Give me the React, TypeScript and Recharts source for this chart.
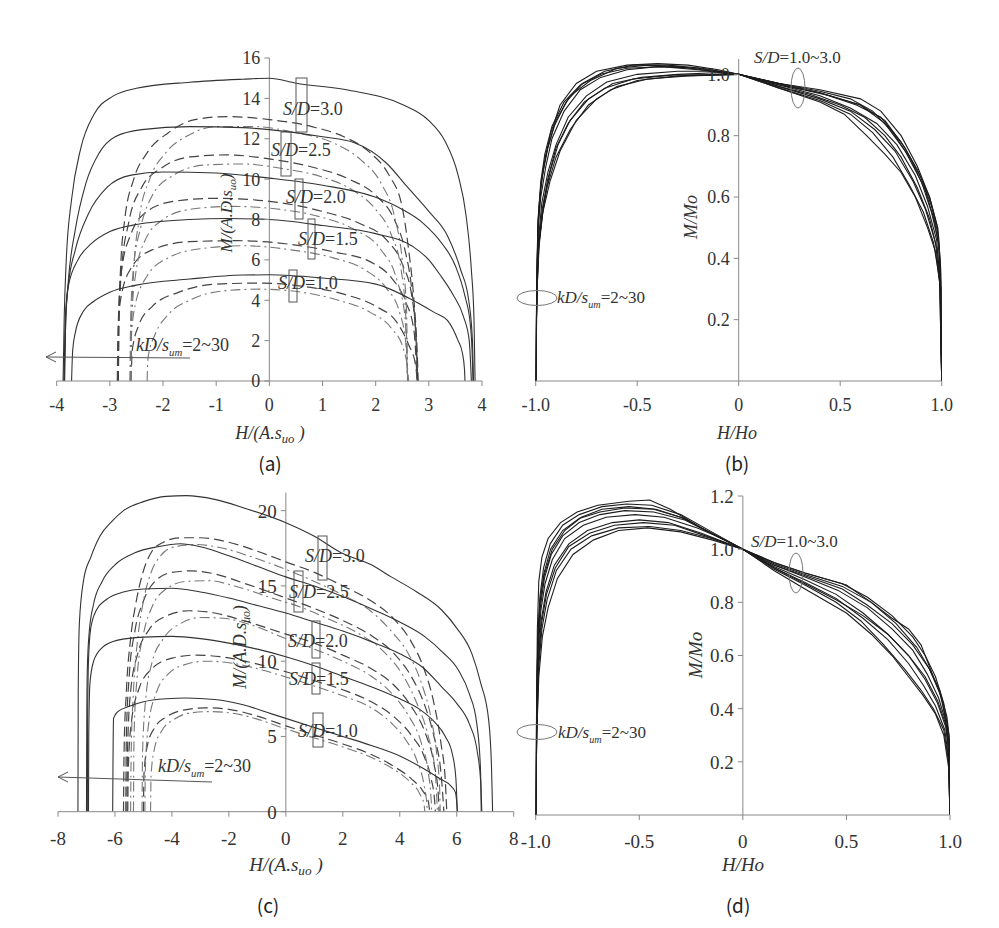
import React from "react";
import { LineChart, Line, XAxis, YAxis, ReferenceLine, ReferenceDot } from "recharts";

const FONT = '"Liberation Serif", "DejaVu Serif", "Times New Roman", serif';

// (a) S/D groups: solid = outer curve, dash / dot = inner kD curves
const aSolid30 = [[-3.88,0],[-3.86,3],[-3.82,6],[-3.72,9],[-3.55,11.5],[-3.3,13.2],[-2.95,14.1],[-2.5,14.5],[-1.5,14.8],[-0.5,14.95],[0,15.0],[0.5,14.75],[1.5,14.4],[2.5,13.7],[3.0,12.9],[3.3,11.9],[3.55,10.2],[3.7,8.2],[3.8,5.5],[3.85,3],[3.87,0]];
const aSolid25 = [[-3.86,0],[-3.83,3],[-3.78,5],[-3.65,7.5],[-3.45,9.8],[-3.2,11.3],[-2.9,12.1],[-2.4,12.45],[-1.5,12.6],[-0.5,12.55],[0,12.45],[1,12.1],[1.6,11.8],[2.2,10.8],[2.6,9.6],[3.0,8.4],[3.35,7.2],[3.6,5.5],[3.75,4],[3.82,2],[3.84,0]];
const aSolid20 = [[-3.86,0],[-3.84,3],[-3.78,4.8],[-3.65,6.5],[-3.4,8.3],[-3.05,9.6],[-2.6,10.2],[-2,10.35],[-1,10.3],[0,10.05],[1,9.7],[2,9.1],[2.5,8.5],[2.9,7.8],[3.25,6.8],[3.5,5.7],[3.68,4.2],[3.78,2.8],[3.82,1],[3.83,0]];
const aSolid15 = [[-3.85,0],[-3.83,3],[-3.78,4.7],[-3.6,6.0],[-3.35,6.8],[-3.0,7.4],[-2.5,7.75],[-1.5,8.0],[-0.8,8.05],[0,8.0],[1,7.7],[2,7.3],[2.7,6.66],[3.0,6.0],[3.2,5.3],[3.45,4.3],[3.65,3.2],[3.76,2],[3.8,0]];
const aSolid10 = [[-3.72,0],[-3.7,1.5],[-3.65,2.4],[-3.5,3.45],[-3.3,3.95],[-3.0,4.4],[-2.5,4.75],[-1.5,5.05],[-0.5,5.25],[0,5.26],[1,5.1],[2,4.8],[2.77,3.9],[3.1,3.4],[3.35,3.0],[3.55,2.0],[3.63,1.4],[3.67,0.6],[3.68,0]];
const aDash30 = [[-2.84,0],[-2.83,3],[-2.8,5.5],[-2.72,8],[-2.55,10],[-2.3,11.3],[-1.9,12.3],[-1.4,12.95],[-0.8,13.1],[0,12.95],[0.8,12.6],[1.4,12.1],[1.9,11.3],[2.25,10.2],[2.5,8.6],[2.62,6.5],[2.72,4],[2.78,1.5],[2.8,0]];
const aDot30 = [[-2.6,0],[-2.59,3],[-2.55,5.5],[-2.45,8],[-2.25,10],[-1.95,11.3],[-1.5,12.2],[-1.0,12.6],[-0.3,12.6],[0.5,12.3],[1.2,11.8],[1.7,11.0],[2.1,9.8],[2.35,8.2],[2.5,6],[2.58,3.5],[2.6,0]];
const aDash25 = [[-2.84,0],[-2.83,3],[-2.78,5.5],[-2.65,7.8],[-2.4,9.6],[-2.0,10.6],[-1.5,11.1],[-0.8,11.2],[0,11.0],[0.8,10.6],[1.5,10.0],[2.0,9.2],[2.35,8.0],[2.55,6.5],[2.68,4.5],[2.76,2],[2.79,0]];
const aDot25 = [[-2.62,0],[-2.61,3],[-2.56,5.5],[-2.42,7.6],[-2.2,9.2],[-1.8,10.2],[-1.2,10.7],[-0.5,10.75],[0.3,10.5],[1.0,10.1],[1.6,9.4],[2.0,8.5],[2.3,7.2],[2.48,5.5],[2.57,3],[2.6,0]];
const aDash20 = [[-2.85,0],[-2.84,3],[-2.78,5.5],[-2.6,7.3],[-2.3,8.4],[-1.8,8.9],[-1.0,9.05],[0,8.9],[1.0,8.4],[1.7,7.8],[2.2,7.0],[2.5,5.8],[2.68,4.2],[2.76,2],[2.79,0]];
const aDot20 = [[-2.6,0],[-2.59,3],[-2.52,5.2],[-2.35,6.9],[-2.0,8.0],[-1.5,8.5],[-0.7,8.65],[0.2,8.5],[1.0,8.1],[1.6,7.5],[2.1,6.5],[2.4,5.0],[2.55,3.2],[2.6,0]];
const aDash15 = [[-2.86,0],[-2.85,2],[-2.8,4],[-2.6,5.6],[-2.2,6.5],[-1.5,6.9],[-0.6,6.95],[0.3,6.8],[1.2,6.4],[1.9,5.9],[2.3,5.1],[2.55,4.0],[2.72,2.5],[2.78,0]];
const aDot15 = [[-2.62,0],[-2.6,2],[-2.52,3.8],[-2.3,5.2],[-1.9,6.1],[-1.3,6.55],[-0.5,6.7],[0.4,6.5],[1.2,6.1],[1.8,5.5],[2.2,4.6],[2.45,3.4],[2.57,1.8],[2.6,0]];
const aDash10 = [[-2.6,0],[-2.58,1.5],[-2.45,2.8],[-2.2,3.7],[-1.7,4.4],[-1.0,4.8],[-0.2,4.85],[0.6,4.7],[1.4,4.3],[2.0,3.7],[2.4,2.9],[2.62,1.8],[2.75,0.8],[2.78,0]];
const aDot10 = [[-2.3,0],[-2.28,1.2],[-2.15,2.3],[-1.9,3.3],[-1.5,4.0],[-0.9,4.45],[-0.2,4.55],[0.6,4.4],[1.3,4.0],[1.9,3.4],[2.3,2.6],[2.52,1.6],[2.6,0.6],[2.62,0]];

// (b) normalised curves
const b1 = [[-1.0,0],[-0.995,0.3],[-0.99,0.5],[-0.98,0.6],[-0.96,0.7],[-0.93,0.8],[-0.88,0.9],[-0.8,0.97],[-0.7,1.01],[-0.55,1.03],[-0.4,1.035],[-0.25,1.03],[-0.1,1.015],[0,1.0],[0.2,0.97],[0.4,0.95],[0.6,0.92],[0.7,0.88],[0.8,0.8],[0.88,0.7],[0.94,0.6],[0.98,0.5],[0.995,0.35],[1.0,0]];
const b2 = [[-1.0,0],[-0.995,0.3],[-0.99,0.48],[-0.975,0.6],[-0.95,0.7],[-0.92,0.79],[-0.86,0.88],[-0.78,0.95],[-0.68,0.99],[-0.55,1.015],[-0.4,1.025],[-0.2,1.02],[0,1.0],[0.2,0.97],[0.4,0.94],[0.6,0.9],[0.72,0.85],[0.82,0.76],[0.9,0.66],[0.95,0.57],[0.985,0.47],[0.997,0.3],[1.0,0]];
const b3 = [[-1.0,0],[-0.995,0.28],[-0.988,0.45],[-0.97,0.58],[-0.94,0.68],[-0.9,0.77],[-0.84,0.86],[-0.75,0.93],[-0.65,0.975],[-0.5,1.0],[-0.3,1.01],[-0.15,1.01],[0,1.0],[0.2,0.965],[0.4,0.93],[0.55,0.89],[0.68,0.84],[0.78,0.77],[0.87,0.67],[0.93,0.57],[0.975,0.46],[0.995,0.3],[1.0,0]];
const b4 = [[-1.0,0],[-0.995,0.27],[-0.985,0.43],[-0.965,0.55],[-0.93,0.65],[-0.88,0.75],[-0.8,0.85],[-0.7,0.92],[-0.6,0.96],[-0.45,0.985],[-0.25,0.995],[0,1.0],[0.2,0.96],[0.4,0.92],[0.55,0.88],[0.67,0.82],[0.77,0.75],[0.86,0.65],[0.92,0.56],[0.97,0.45],[0.993,0.3],[1.0,0]];
const b5 = [[-1.0,0],[-0.993,0.3],[-0.982,0.46],[-0.96,0.58],[-0.93,0.68],[-0.89,0.77],[-0.83,0.85],[-0.74,0.92],[-0.62,0.97],[-0.48,0.99],[-0.3,1.0],[-0.12,1.005],[0,1.0],[0.2,0.96],[0.35,0.935],[0.5,0.9],[0.62,0.86],[0.72,0.8],[0.8,0.73],[0.88,0.63],[0.94,0.53],[0.98,0.42],[0.995,0.28],[1.0,0]];
const b6 = [[-1.0,0],[-0.994,0.32],[-0.987,0.52],[-0.975,0.64],[-0.95,0.74],[-0.91,0.83],[-0.85,0.91],[-0.77,0.97],[-0.66,1.01],[-0.52,1.03],[-0.35,1.03],[-0.18,1.02],[0,1.0],[0.2,0.965],[0.4,0.94],[0.58,0.9],[0.7,0.86],[0.8,0.78],[0.88,0.69],[0.94,0.6],[0.98,0.5],[0.996,0.36],[1.0,0]];
const b7 = [[-1.0,0],[-0.996,0.25],[-0.988,0.42],[-0.97,0.53],[-0.945,0.63],[-0.9,0.73],[-0.83,0.82],[-0.74,0.9],[-0.63,0.95],[-0.5,0.98],[-0.3,0.995],[0,1.0],[0.2,0.955],[0.4,0.915],[0.55,0.87],[0.66,0.81],[0.76,0.73],[0.84,0.64],[0.91,0.55],[0.96,0.45],[0.99,0.33],[1.0,0]];
const b8 = [[-1.0,0],[-0.994,0.35],[-0.986,0.55],[-0.97,0.66],[-0.94,0.76],[-0.9,0.85],[-0.83,0.93],[-0.73,0.98],[-0.6,1.02],[-0.45,1.03],[-0.3,1.025],[-0.12,1.01],[0,1.0],[0.25,0.96],[0.45,0.93],[0.6,0.9],[0.72,0.84],[0.82,0.75],[0.9,0.65],[0.95,0.55],[0.985,0.45],[0.997,0.3],[1.0,0]];
const b9 = [[-1.0,0],[-0.995,0.26],[-0.987,0.44],[-0.968,0.56],[-0.94,0.66],[-0.9,0.76],[-0.84,0.84],[-0.76,0.91],[-0.66,0.955],[-0.52,0.985],[-0.32,0.998],[0,1.0],[0.2,0.955],[0.4,0.91],[0.52,0.87],[0.63,0.8],[0.72,0.74],[0.8,0.68],[0.87,0.6],[0.93,0.5],[0.97,0.42],[0.99,0.32],[1.0,0]];
const b10 = [[-1.0,0],[-0.994,0.33],[-0.988,0.53],[-0.975,0.65],[-0.955,0.74],[-0.92,0.83],[-0.86,0.91],[-0.78,0.965],[-0.68,1.0],[-0.55,1.02],[-0.38,1.025],[-0.2,1.015],[0,1.0],[0.2,0.97],[0.4,0.945],[0.55,0.92],[0.66,0.88],[0.76,0.81],[0.85,0.72],[0.92,0.62],[0.965,0.52],[0.99,0.42],[1.0,0]];

// (c)
const cSolid30 = [[-7.3,0],[-7.29,8],[-7.25,12.5],[-7.1,15.4],[-6.85,16.9],[-6.53,18.3],[-6.1,19.3],[-5.7,20.0],[-5.0,20.6],[-4.2,20.95],[-3.5,21.0],[-2.5,20.75],[-1.5,20.2],[0,19.2],[1.0,18.3],[1.94,17.2],[3.0,16.4],[3.7,15.6],[4.6,14.6],[5.47,13.4],[6.0,12.2],[6.53,10.5],[6.85,8.5],[7.12,6.1],[7.22,3],[7.26,0]];
const cSolid25 = [[-7.0,0],[-6.99,6],[-6.97,9.5],[-6.9,12],[-6.75,13.8],[-6.45,15.3],[-6.0,16.4],[-5.3,17.2],[-4.5,17.6],[-3.7,17.8],[-3.0,17.6],[-2.0,17.0],[-1.0,16.3],[0,15.6],[1.0,15.0],[2.0,14.3],[3.1,13.4],[4.0,12.6],[4.9,11.6],[5.5,10.6],[6.06,9.4],[6.45,7.8],[6.7,5.9],[6.83,3],[6.88,0]];
const cSolid20 = [[-6.97,0],[-6.96,6],[-6.93,10],[-6.85,12.2],[-6.65,13.4],[-6.3,14.1],[-5.7,14.6],[-5.0,14.8],[-4.0,14.85],[-3.0,14.6],[-2.0,14.2],[-1.0,13.7],[0,13.2],[1.0,12.6],[2.0,12.0],[3.0,11.3],[4.0,10.5],[4.8,9.6],[5.47,8.3],[6.0,7.2],[6.45,5.8],[6.72,4],[6.84,2],[6.86,0]];
const cSolid15 = [[-6.93,0],[-6.92,5],[-6.88,8.5],[-6.75,10],[-6.45,10.9],[-5.9,11.4],[-5.0,11.6],[-4.0,11.65],[-3.0,11.5],[-2.0,11.2],[-1.0,10.8],[0,10.3],[1.0,9.7],[2.0,9.0],[3.0,8.3],[4.0,7.5],[4.7,6.8],[5.2,6.0],[5.6,5.0],[5.85,3.8],[5.97,2.2],[6.02,0]];
const cSolid10 = [[-6.08,0],[-6.07,3],[-6.05,6.2],[-5.9,6.65],[-5.5,7.0],[-5.0,7.3],[-4.2,7.5],[-3.5,7.55],[-2.5,7.45],[-1.5,7.1],[-0.5,6.5],[0,6.2],[1.0,5.6],[2.0,5.0],[3.0,4.4],[4.0,3.7],[4.8,2.9],[5.4,2.2],[5.8,1.7],[5.95,1.3],[6.0,0.6],[6.02,0]];
const cDash30 = [[-5.7,0],[-5.68,4],[-5.6,8],[-5.45,11.5],[-5.25,14],[-5.0,16],[-4.7,17.3],[-4.3,17.9],[-3.7,18.2],[-3.0,18.2],[-2.0,17.9],[-1.0,17.3],[0,16.6],[1.0,15.9],[2.0,15.0],[3.0,14.0],[3.8,12.8],[4.4,11.3],[4.85,9.5],[5.2,7.2],[5.45,4.5],[5.6,2],[5.65,0]];
const cDot30 = [[-5.45,0],[-5.43,4],[-5.35,8],[-5.2,11.5],[-5.0,14],[-4.75,15.8],[-4.4,17.0],[-3.9,17.6],[-3.2,17.75],[-2.2,17.5],[-1.0,16.8],[0,16.1],[1.0,15.3],[2.0,14.4],[3.0,13.3],[3.7,12.0],[4.3,10.5],[4.75,8.6],[5.1,6.2],[5.3,3.8],[5.4,1.5],[5.42,0]];
const cDash25 = [[-5.62,0],[-5.6,5],[-5.5,9],[-5.3,12],[-5.0,14],[-4.6,15.3],[-4.0,15.9],[-3.3,16.0],[-2.5,15.8],[-1.5,15.2],[0,14.2],[1.0,13.5],[2.0,12.7],[3.0,11.7],[3.8,10.5],[4.4,9.0],[4.85,7.2],[5.2,5.0],[5.45,2.5],[5.55,0]];
const cDot25 = [[-5.35,0],[-5.33,5],[-5.22,9],[-5.0,11.8],[-4.7,13.6],[-4.2,14.8],[-3.5,15.3],[-2.7,15.35],[-1.8,15.0],[-0.5,14.2],[0.5,13.6],[1.5,12.8],[2.5,11.9],[3.4,10.7],[4.1,9.1],[4.6,7.2],[5.0,5.0],[5.25,2.5],[5.32,0]];
const cDash20 = [[-5.58,0],[-5.56,4],[-5.45,8],[-5.2,10.5],[-4.8,12.1],[-4.2,13.0],[-3.4,13.35],[-2.5,13.2],[-1.5,12.7],[0,11.8],[1.0,11.2],[2.0,10.4],[3.0,9.5],[3.8,8.4],[4.4,7.0],[4.9,5.2],[5.2,3.2],[5.35,1.2],[5.38,0]];
const cDot20 = [[-5.05,0],[-5.03,4],[-4.92,7.5],[-4.7,9.9],[-4.3,11.5],[-3.7,12.5],[-3.0,12.9],[-2.2,12.85],[-1.2,12.4],[0,11.5],[1.0,10.8],[2.0,10.0],[3.0,9.0],[3.7,7.9],[4.3,6.4],[4.75,4.6],[5.0,2.6],[5.1,0.8],[5.12,0]];
const cDash15 = [[-5.55,0],[-5.53,3],[-5.42,6],[-5.15,8.2],[-4.7,9.5],[-4.0,10.2],[-3.2,10.4],[-2.3,10.3],[-1.2,9.9],[0,9.3],[1.0,8.7],[2.0,8.1],[3.0,7.3],[3.8,6.3],[4.4,5.1],[4.85,3.7],[5.1,2.2],[5.22,0.8],[5.25,0]];
const cDot15 = [[-4.95,0],[-4.93,3],[-4.82,5.8],[-4.55,7.9],[-4.1,9.2],[-3.5,9.8],[-2.8,10.0],[-2.0,9.9],[-1.0,9.5],[0,8.95],[1.0,8.35],[2.0,7.7],[3.0,6.9],[3.7,5.9],[4.2,4.8],[4.6,3.4],[4.85,1.8],[4.95,0.5],[4.97,0]];
const cDash10 = [[-5.0,0],[-4.98,2.5],[-4.85,4.5],[-4.6,5.6],[-4.2,6.3],[-3.6,6.75],[-2.8,6.9],[-2.0,6.8],[-1.0,6.35],[0,5.7],[1.0,5.1],[2.0,4.5],[3.0,3.8],[3.8,3.0],[4.4,2.2],[4.8,1.4],[5.0,0.7],[5.05,0]];
const cDot10 = [[-4.75,0],[-4.73,2.5],[-4.6,4.3],[-4.35,5.4],[-3.95,6.1],[-3.4,6.55],[-2.7,6.65],[-1.9,6.55],[-1.0,6.15],[0,5.5],[1.0,4.9],[2.0,4.3],[3.0,3.6],[3.8,2.8],[4.35,2.0],[4.7,1.2],[4.85,0.5],[4.88,0]];

// (d)
const d1 = [[-1.0,0],[-0.996,0.4],[-0.992,0.7],[-0.985,0.88],[-0.97,0.97],[-0.94,1.04],[-0.88,1.1],[-0.8,1.14],[-0.7,1.165],[-0.55,1.18],[-0.45,1.185],[-0.35,1.15],[-0.2,1.08],[-0.1,1.04],[0,1.0],[0.15,0.95],[0.3,0.91],[0.5,0.865],[0.62,0.8],[0.72,0.74],[0.8,0.7],[0.86,0.64],[0.92,0.52],[0.96,0.44],[0.99,0.3],[1.0,0]];
const d2 = [[-1.0,0],[-0.996,0.35],[-0.99,0.65],[-0.98,0.8],[-0.96,0.9],[-0.92,1.0],[-0.86,1.07],[-0.78,1.12],[-0.68,1.15],[-0.55,1.16],[-0.42,1.15],[-0.3,1.12],[-0.15,1.06],[0,1.0],[0.15,0.94],[0.3,0.9],[0.48,0.85],[0.6,0.79],[0.72,0.72],[0.82,0.64],[0.9,0.55],[0.95,0.46],[0.985,0.35],[0.998,0.25],[1.0,0]];
const d3 = [[-1.0,0],[-0.995,0.35],[-0.988,0.62],[-0.975,0.77],[-0.955,0.87],[-0.92,0.96],[-0.86,1.04],[-0.77,1.09],[-0.66,1.12],[-0.52,1.13],[-0.38,1.12],[-0.22,1.08],[-0.1,1.04],[0,1.0],[0.15,0.935],[0.3,0.885],[0.45,0.83],[0.58,0.76],[0.7,0.68],[0.8,0.6],[0.88,0.51],[0.94,0.42],[0.98,0.33],[0.997,0.22],[1.0,0]];
const d4 = [[-1.0,0],[-0.995,0.33],[-0.988,0.58],[-0.974,0.73],[-0.95,0.84],[-0.91,0.94],[-0.84,1.02],[-0.75,1.07],[-0.63,1.1],[-0.5,1.11],[-0.36,1.1],[-0.2,1.06],[0,1.0],[0.15,0.93],[0.3,0.875],[0.45,0.815],[0.58,0.74],[0.7,0.66],[0.8,0.57],[0.87,0.49],[0.93,0.41],[0.975,0.32],[0.995,0.2],[1.0,0]];
const d5 = [[-1.0,0],[-0.995,0.3],[-0.986,0.55],[-0.97,0.7],[-0.945,0.81],[-0.9,0.92],[-0.83,1.0],[-0.73,1.05],[-0.6,1.08],[-0.45,1.085],[-0.3,1.07],[-0.15,1.04],[0,1.0],[0.15,0.925],[0.3,0.865],[0.45,0.8],[0.57,0.73],[0.68,0.64],[0.78,0.55],[0.86,0.47],[0.92,0.4],[0.97,0.32],[0.993,0.2],[1.0,0]];
const d6 = [[-1.0,0],[-0.996,0.38],[-0.99,0.66],[-0.98,0.82],[-0.962,0.93],[-0.93,1.02],[-0.87,1.09],[-0.79,1.13],[-0.68,1.16],[-0.56,1.17],[-0.44,1.165],[-0.3,1.13],[-0.15,1.065],[0,1.0],[0.15,0.945],[0.3,0.905],[0.48,0.86],[0.62,0.8],[0.74,0.72],[0.84,0.63],[0.9,0.55],[0.95,0.47],[0.985,0.37],[0.998,0.28],[1.0,0]];
const d7 = [[-1.0,0],[-0.995,0.32],[-0.987,0.57],[-0.972,0.72],[-0.948,0.83],[-0.905,0.93],[-0.84,1.01],[-0.74,1.06],[-0.62,1.09],[-0.48,1.1],[-0.33,1.09],[-0.18,1.05],[0,1.0],[0.15,0.93],[0.3,0.87],[0.45,0.81],[0.58,0.75],[0.7,0.68],[0.8,0.6],[0.88,0.52],[0.94,0.43],[0.98,0.34],[0.996,0.22],[1.0,0]];
const d8 = [[-1.0,0],[-0.996,0.36],[-0.99,0.62],[-0.978,0.78],[-0.958,0.89],[-0.925,0.98],[-0.87,1.05],[-0.79,1.1],[-0.69,1.13],[-0.57,1.145],[-0.43,1.14],[-0.28,1.11],[-0.13,1.05],[0,1.0],[0.15,0.94],[0.3,0.895],[0.46,0.845],[0.6,0.78],[0.72,0.7],[0.82,0.62],[0.89,0.53],[0.945,0.44],[0.98,0.35],[0.997,0.25],[1.0,0]];
const d9 = [[-1.0,0],[-0.995,0.3],[-0.985,0.52],[-0.968,0.67],[-0.94,0.78],[-0.895,0.89],[-0.82,0.98],[-0.72,1.035],[-0.6,1.07],[-0.46,1.08],[-0.3,1.065],[-0.15,1.035],[0,1.0],[0.15,0.92],[0.3,0.85],[0.5,0.76],[0.62,0.68],[0.72,0.6],[0.8,0.52],[0.87,0.45],[0.93,0.38],[0.97,0.3],[0.993,0.18],[1.0,0]];
const d10 = [[-1.0,0],[-0.996,0.37],[-0.99,0.64],[-0.979,0.8],[-0.96,0.91],[-0.928,1.0],[-0.87,1.07],[-0.79,1.115],[-0.69,1.14],[-0.57,1.155],[-0.43,1.15],[-0.28,1.115],[-0.13,1.05],[0,1.0],[0.15,0.95],[0.3,0.91],[0.48,0.87],[0.6,0.82],[0.72,0.75],[0.82,0.67],[0.88,0.6],[0.93,0.52],[0.97,0.42],[0.995,0.3],[1.0,0]];

const aTicksX = [-4, -3, -2, -1, 0, 1, 2, 3, 4];
const aTicksY = [0, 2, 4, 6, 8, 10, 12, 14, 16];
const cTicksX = [-8, -6, -4, -2, 0, 2, 4, 6, 8];
const cTicksY = [0, 5, 10, 15, 20];
const nTicksX = [-1, -0.5, 0, 0.5, 1];
const bTicksY = [0.2, 0.4, 0.6, 0.8, 1.0];
const dTicksY = [0.2, 0.4, 0.6, 0.8, 1.0, 1.2];

const toPts = (a: number[][]) => a.map(([x, y]) => ({ x, y }));

const SOLID = { stroke: "#333", dash: undefined, width: 1.1 };
const DASH = { stroke: "#444", dash: "10 5", width: 1.2 };
const DOT = { stroke: "#777", dash: "10 4 2 4", width: 1.1 };
const NORM = { stroke: "#1c1c1c", dash: undefined, width: 1.1 };

const aSeries = [
  ...[aDash30, aDash25, aDash20, aDash15, aDash10].map((d) => ({ d, s: DASH })),
  ...[aDot30, aDot25, aDot20, aDot15, aDot10].map((d) => ({ d, s: DOT })),
  ...[aSolid30, aSolid25, aSolid20, aSolid15, aSolid10].map((d) => ({ d, s: SOLID })),
];
const cSeries = [
  ...[cDash30, cDash25, cDash20, cDash15, cDash10].map((d) => ({ d, s: DASH })),
  ...[cDot30, cDot25, cDot20, cDot15, cDot10].map((d) => ({ d, s: DOT })),
  ...[cSolid30, cSolid25, cSolid20, cSolid15, cSolid10].map((d) => ({ d, s: SOLID })),
];
const bSeries = [b1, b2, b3, b4, b5, b6, b7, b8, b9, b10].map((d) => ({ d, s: NORM }));
const dSeries = [d1, d2, d3, d4, d5, d6, d7, d8, d9, d10].map((d) => ({ d, s: NORM }));

const W = 999;
const H = 928;

const fmtNorm = (v: number) => (v === 0 ? "0" : v.toFixed(1));

// y tick drawn at the x = 0 axis line
function yTickShape(label: string, size: number) {
  return (p: any) => (
    <g>
      <line x1={p.cx - 5} x2={p.cx} y1={p.cy} y2={p.cy} stroke="#888" />
      <text x={p.cx - 9} y={p.cy} dy="0.36em" textAnchor="end" style={{ fontFamily: FONT, fontSize: size, fill: "#333" }}>
        {label}
      </text>
    </g>
  );
}

function XTick(props: any) {
  const { x, y, payload, fmt, size } = props;
  return (
    <text x={x} y={y} dy="0.75em" textAnchor="middle" style={{ fontFamily: FONT, fontSize: size, fill: "#333" }}>
      {fmt(payload.value)}
    </text>
  );
}

function Panel(props: {
  margin: { top: number; right: number; bottom: number; left: number };
  xDomain: number[];
  yDomain: number[];
  xTicks: number[];
  yTicks: number[];
  fmt: (v: number) => string;
  size: number;
  tickMargin: number;
  series: { d: number[][]; s: { stroke: string; dash?: string; width: number } }[];
  curve: "monotone" | "linear";
}) {
  const { margin, xDomain, yDomain, xTicks, yTicks, fmt, size, tickMargin, series, curve } = props;
  return (
    <div style={{ position: "absolute", left: 0, top: 0 }}>
      <LineChart width={W} height={H} margin={margin}>
        <XAxis
          type="number"
          dataKey="x"
          domain={xDomain}
          ticks={xTicks}
          allowDataOverflow
          height={30}
          stroke="#888"
          tickSize={5}
          tickMargin={tickMargin}
          interval={0}
          tick={(p: any) => <XTick {...p} fmt={fmt} size={size} />}
        />
        <YAxis type="number" dataKey="y" domain={yDomain} allowDataOverflow hide />
        <ReferenceLine x={0} stroke="#888" strokeWidth={1} />
        {series.map((sr, i) => (
          <Line
            key={i}
            data={toPts(sr.d)}
            dataKey="y"
            type={curve}
            dot={false}
            activeDot={false}
            stroke={sr.s.stroke}
            strokeWidth={sr.s.width}
            strokeDasharray={sr.s.dash}
            isAnimationActive={false}
          />
        ))}
        {yTicks.map((v) => (
          <ReferenceDot key={"t" + v} x={0} y={v} r={0} ifOverflow="visible" shape={yTickShape(fmt(v), size)} />
        ))}
      </LineChart>
    </div>
  );
}

const txt = { fontFamily: FONT, fill: "#333" };

function Notes() {
  const box = (x: number, y: number, w: number, h: number) => (
    <rect x={x} y={y} width={w} height={h} fill="none" stroke="#555" strokeWidth={1} />
  );
  const sd = (x: number, y: number, v: string) => (
    <text x={x} y={y} style={{ ...txt, fontSize: 18 }}>
      <tspan style={{ fontStyle: "italic" }}>S/D</tspan>={v}
    </text>
  );
  const kd = (x: number, y: number, size: number) => (
    <text x={x} y={y} style={{ ...txt, fontSize: size }}>
      <tspan style={{ fontStyle: "italic" }}>kD/s</tspan>
      <tspan style={{ fontStyle: "italic", fontSize: size * 0.6 }} dy={5}>um</tspan>
      <tspan dy={-5}>=2~30</tspan>
    </text>
  );
  const ylab = (x: number, y: number, size: number) => (
    <text transform={`translate(${x},${y}) rotate(-90)`} textAnchor="middle" style={{ ...txt, fontSize: size, fontStyle: "italic" }}>
      M/(A.D.s<tspan style={{ fontSize: size * 0.65 }} dy={4}>uo</tspan>
      <tspan dy={-4}>)</tspan>
    </text>
  );
  const xlab = (x: number, y: number, size: number) => (
    <text x={x} y={y} textAnchor="middle" style={{ ...txt, fontSize: size, fontStyle: "italic" }}>
      H/(A.s<tspan style={{ fontSize: size * 0.7 }} dy={4}>uo</tspan>
      <tspan dy={-4}> )</tspan>
    </text>
  );
  const plain = (x: number, y: number, s: string, size: number, rot = false) => (
    <text
      x={rot ? 0 : x}
      y={rot ? 0 : y}
      transform={rot ? `translate(${x},${y}) rotate(-90)` : undefined}
      textAnchor="middle"
      style={{ ...txt, fontSize: size, fontStyle: "italic" }}
    >
      {s}
    </text>
  );
  const panelTag = (x: number, y: number, s: string) => (
    <text x={x} y={y} textAnchor="middle" style={{ fontSize: 19, fontFamily: '"Noto Sans CJK KR", "DejaVu Sans", sans-serif', fill: "#222" }}>
      {s}
    </text>
  );
  const arrow = (x1: number, y1: number, x2: number, y2: number) => (
    <g stroke="#555" strokeWidth={1} fill="none">
      <line x1={x1} y1={y1} x2={x2} y2={y2} />
      <polyline points={`${x2 + 10},${y2 - 5} ${x2},${y2} ${x2 + 10},${y2 + 5}`} />
    </g>
  );
  return (
    <svg width={W} height={H} style={{ position: "absolute", left: 0, top: 0, pointerEvents: "none" }}>
      {/* (a) */}
      {box(296, 78, 11, 54)}
      {box(281, 132, 10, 44)}
      {box(295, 179, 8, 40)}
      {box(308, 219, 7, 40)}
      {box(289, 270, 8, 32)}
      {sd(283, 115, "3.0")}
      {sd(271, 156, "2.5")}
      {sd(286, 203, "2.0")}
      {sd(298, 245, "1.5")}
      {sd(278, 289, "1.0")}
      {kd(136, 351, 18)}
      {arrow(190, 358, 46, 357)}
      {ylab(232, 213, 17)}
      {xlab(270, 439, 18)}
      {panelTag(270, 471, "(a)")}
      {/* (b) */}
      <text x={754} y={63} style={{ ...txt, fontSize: 17 }}>
        <tspan style={{ fontStyle: "italic" }}>S/D</tspan>=1.0~3.0
      </text>
      <ellipse cx={798} cy={88} rx={7} ry={20} fill="none" stroke="#777" />
      <ellipse cx={537} cy={298} rx={20} ry={7.5} fill="none" stroke="#777" />
      {kd(557, 303, 17)}
      {plain(697, 217, "M/Mo", 18, true)}
      {plain(737, 439, "H/Ho", 18)}
      {panelTag(737, 471, "(b)")}
      {/* (c) */}
      {box(318, 536, 9, 44)}
      {box(294, 571, 9, 41)}
      {box(312, 621, 8, 37)}
      {box(312, 663, 8, 31)}
      {box(313, 713, 10, 34)}
      {sd(305, 562, "3.0")}
      {sd(289, 598, "2.5")}
      {sd(288, 647, "2.0")}
      {sd(289, 685, "1.5")}
      {sd(298, 737, "1.0")}
      {kd(158, 772, 18)}
      {arrow(212, 782, 58, 777)}
      {ylab(246, 647, 18)}
      {xlab(286, 871, 19)}
      {panelTag(268, 913, "(c)")}
      {/* (d) */}
      <text x={751} y={547} style={{ ...txt, fontSize: 17 }}>
        <tspan style={{ fontStyle: "italic" }}>S/D</tspan>=1.0~3.0
      </text>
      <ellipse cx={796} cy={573} rx={7} ry={20} fill="none" stroke="#777" />
      <ellipse cx={537} cy={732} rx={20} ry={7.5} fill="none" stroke="#777" />
      {kd(558, 738, 17)}
      {plain(702, 655, "M/Mo", 19, true)}
      {plain(743, 871, "H/Ho", 19)}
      {panelTag(738, 913, "(d)")}
    </svg>
  );
}

export default function App() {
  return (
    <div style={{ position: "absolute", left: 0, top: 0, width: W, height: H, background: "#fff" }}>
      <Panel
        margin={{ top: 58, right: 517, bottom: 517, left: 56.7 }}
        xDomain={[-4, 4]}
        yDomain={[0, 16]}
        xTicks={aTicksX}
        yTicks={aTicksY}
        fmt={(v) => String(v)}
        size={18}
        tickMargin={11}
        series={aSeries}
        curve="monotone"
      />
      <Panel
        margin={{ top: 59, right: 57.3, bottom: 517, left: 535.7 }}
        xDomain={[-1, 1]}
        yDomain={[0, 1.05]}
        xTicks={nTicksX}
        yTicks={bTicksY}
        fmt={fmtNorm}
        size={18}
        tickMargin={11}
        series={bSeries}
        curve="linear"
      />
      <Panel
        margin={{ top: 492.6, right: 485.3, bottom: 86.3, left: 58 }}
        xDomain={[-8, 8]}
        yDomain={[0, 21.2]}
        xTicks={cTicksX}
        yTicks={cTicksY}
        fmt={(v) => String(v)}
        size={19}
        tickMargin={14}
        series={cSeries}
        curve="monotone"
      />
      <Panel
        margin={{ top: 496, right: 49, bottom: 83, left: 535.7 }}
        xDomain={[-1, 1]}
        yDomain={[0, 1.2]}
        xTicks={nTicksX}
        yTicks={dTicksY}
        fmt={fmtNorm}
        size={19}
        tickMargin={14}
        series={dSeries}
        curve="linear"
      />
      <Notes />
    </div>
  );
}
